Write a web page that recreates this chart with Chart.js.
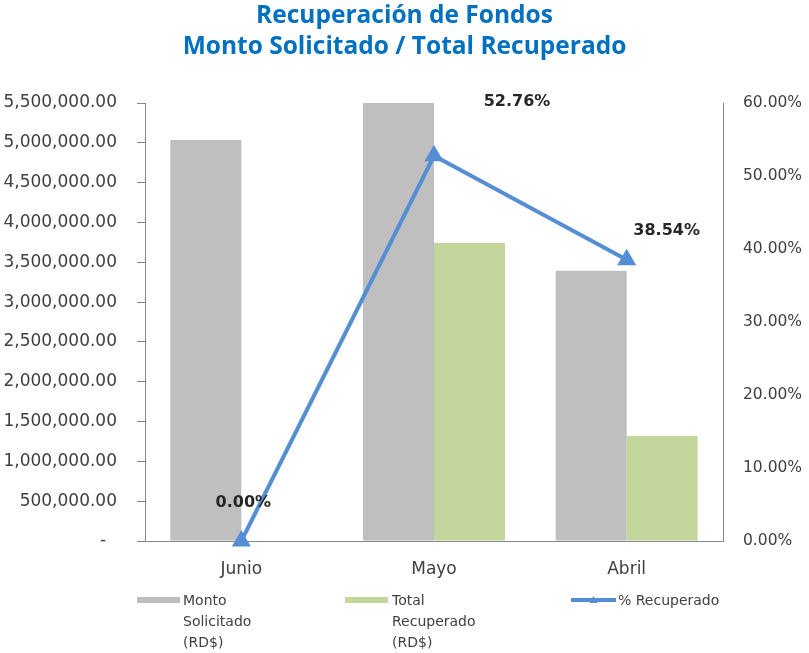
<!DOCTYPE html>
<html>
<head>
<meta charset="utf-8">
<title>Recuperación de Fondos</title>
<script src="https://cdn.jsdelivr.net/npm/chart.js@4.4.1/dist/chart.umd.min.js"></script>
<style>
  body { margin: 0; background: #fff; }
  #wrap { position: relative; width: 809px; height: 653px; font-family: "DejaVu Sans", sans-serif; }
  #title {
    position: absolute; left: 0; top: -2px; width: 809px; text-align: center;
    font-family: "Open Sans", sans-serif; font-weight: bold; font-size: 24.5px;
    line-height: 31px; color: #0070C0;
  }
  .leg { position: absolute; top: 590px; font-size: 14px; line-height: 21px; color: #404040; }
  .swatch { position: absolute; height: 6px; top: 597px; }
</style>
</head>
<body>
<div id="wrap">
  <canvas id="chart" width="809" height="653"></canvas>
  <div id="title">Recuperación de Fondos<br>Monto Solicitado / Total Recuperado</div>
  <div class="swatch" style="left:137px;width:43px;background:#BFBFBF"></div>
  <div class="leg" style="left:183px">Monto<br>Solicitado<br>(RD$)</div>
  <div class="swatch" style="left:345px;width:43px;background:#C3D69B"></div>
  <div class="leg" style="left:392px">Total<br>Recuperado<br>(RD$)</div>
  <svg style="position:absolute;left:571px;top:594px" width="45" height="12">
    <line x1="0" y1="6" x2="45" y2="6" stroke="#558ED5" stroke-width="4"/>
    <polygon points="22.5,2 26.5,9 18.5,9" fill="#558ED5"/>
  </svg>
  <div class="leg" style="left:618px">% Recuperado</div>
</div>
<script>
// Chart data
const categories = ["Junio", "Mayo", "Abril"];
const montoSolicitado = [5035000, 7092000, 3395000];
const totalRecuperado = [0, 3742000, 1318000];
const pctRecuperado = [0, 52.76, 38.54];

// where each percentage label sits relative to its point (set by hand in the original)
const labelOffsets = [[2, -38], [83, -54], [40, -29]];

const axisColor = "#868686";
const textColor = "#404040";

const pctLabels = {
    id: "pctLabels",
    afterDatasetsDraw(chart) {
        const meta = chart.getDatasetMeta(2);
        const ctx = chart.ctx;
        ctx.save();
        ctx.font = "bold 16px 'DejaVu Sans'";
        ctx.fillStyle = "#262626";
        ctx.textAlign = "center";
        ctx.textBaseline = "middle";
        meta.data.forEach((pt, i) => {
            const [dx, dy] = labelOffsets[i];
            ctx.fillText(pctRecuperado[i].toFixed(2) + "%", pt.x + dx, pt.y + dy);
        });
        ctx.restore();
    },
};

const ctx = document.getElementById("chart").getContext("2d");
new Chart(ctx, {
    data: {
        labels: categories,
        datasets: [
            {
                type: "bar",
                label: "Monto Solicitado (RD$)",
                data: montoSolicitado,
                backgroundColor: "#BFBFBF",
                yAxisID: "y",
                order: 2,
            },
            {
                type: "bar",
                label: "Total Recuperado (RD$)",
                data: totalRecuperado,
                backgroundColor: "#C3D69B",
                yAxisID: "y",
                order: 2,
            },
            {
                type: "line",
                label: "% Recuperado",
                data: pctRecuperado,
                borderColor: "#558ED5",
                backgroundColor: "#558ED5",
                borderWidth: 4,
                pointStyle: "triangle",
                pointRadius: 7,
                pointHoverRadius: 7,
                tension: 0,
                clip: false,
                yAxisID: "y1",
                order: 1,
            },
        ],
    },
    options: {
        responsive: false,
        animation: false,
        layout: { padding: { top: 103, bottom: 62, left: 0, right: 0 } },
        datasets: {
            bar: { barPercentage: 1, categoryPercentage: 0.737 },
        },
        plugins: {
            legend: { display: false },
            tooltip: { enabled: false },
        },
        scales: {
            x: {
                grid: { display: false },
                border: { color: axisColor },
                ticks: { color: textColor, font: { family: "DejaVu Sans", size: 17 }, padding: 10 },
                afterFit: (s) => { s.height = 50; },
            },
            y: {
                position: "left",
                min: 0,
                max: 5500000,
                grid: { drawOnChartArea: false, tickLength: 8, color: axisColor },
                border: { color: axisColor },
                ticks: {
                    stepSize: 500000,
                    color: textColor,
                    padding: 20,
                    font: { family: "DejaVu Sans", size: 17 },
                    callback: (v) => v === 0 ? "-  " : v.toLocaleString("en-US", { minimumFractionDigits: 2, maximumFractionDigits: 2 }),
                },
                afterFit: (s) => { s.width = 145; },
            },
            y1: {
                position: "right",
                min: 0,
                max: 60,
                grid: { display: false },
                border: { color: axisColor },
                ticks: {
                    stepSize: 10,
                    color: textColor,
                    padding: 12,
                    font: { family: "DejaVu Sans", size: 15.5 },
                    callback: (v) => v.toFixed(2) + "%",
                },
                afterFit: (s) => { s.width = 86; },
            },
        },
    },
    plugins: [pctLabels],
});
</script>
</body>
</html>
